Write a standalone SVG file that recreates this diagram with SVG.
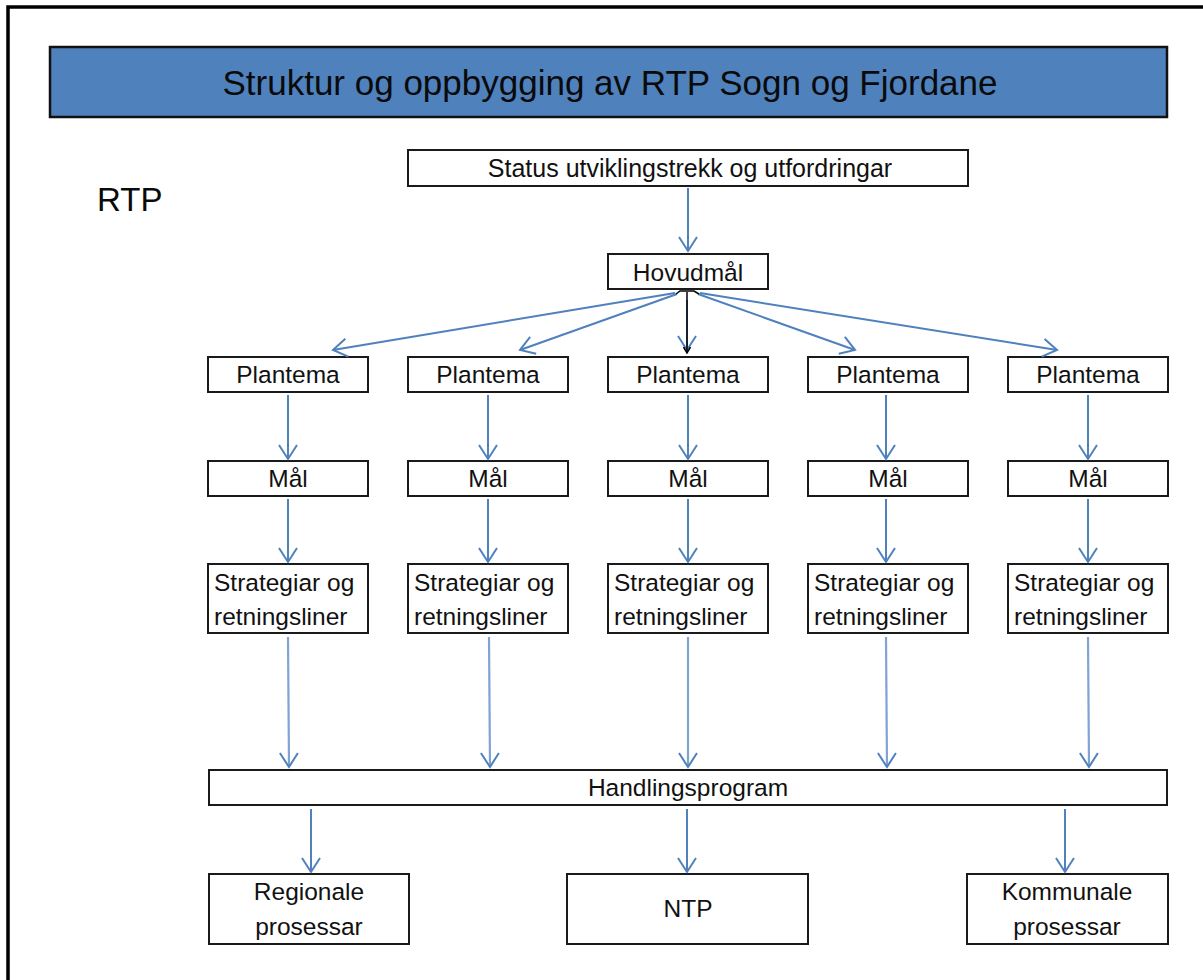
<svg xmlns="http://www.w3.org/2000/svg" width="1203" height="980" viewBox="0 0 1203 980">
<style>
.box{fill:#fff;stroke:#1a1a1a;stroke-width:2}
.t{font-family:"Liberation Sans",Arial,sans-serif;font-size:24.5px;fill:#111;text-anchor:middle}
.tl{font-family:"Liberation Sans",Arial,sans-serif;font-size:24.5px;fill:#111}
.c{stroke:#4F81BD;stroke-width:2;fill:none;marker-end:url(#arr)}
.cl{stroke:#7FA3D4;stroke-width:2.2;fill:none;marker-end:url(#arr)}
</style>
<defs>
<marker id="arr" viewBox="-16 -11 18 22" refX="0" refY="0" markerWidth="18" markerHeight="22" markerUnits="userSpaceOnUse" orient="auto">
<path d="M-14,-9 L0,0 L-14,9" fill="none" stroke="#4F81BD" stroke-width="2"/>
</marker>
<marker id="arrk" viewBox="-8 -5 9 10" refX="0" refY="0" markerWidth="9" markerHeight="10" markerUnits="userSpaceOnUse" orient="auto">
<path d="M-6,-3.5 L0,0 L-6,3.5" fill="none" stroke="#000" stroke-width="1.5"/>
</marker>
</defs>
<rect x="0" y="0" width="1203" height="980" fill="#fff"/>
<rect x="8" y="7" width="1200" height="1000" fill="none" stroke="#000" stroke-width="3.5"/>
<g id="title">
<rect x="50" y="47" width="1117" height="70" fill="#4F81BD" stroke="#111" stroke-width="2.5"/>
<text x="610" y="95" font-family="Liberation Sans,Arial,sans-serif" font-size="35" text-anchor="middle" fill="#0a0a0a">Struktur og oppbygging av RTP Sogn og Fjordane</text>
</g>
<g id="rtp-label"><text x="97" y="211" font-family="Liberation Sans,Arial,sans-serif" font-size="33" fill="#0a0a0a">RTP</text></g>
<g id="status"><rect class="box" x="408" y="150" width="560" height="36"/><text class="t" x="690" y="177" style="font-size:25px">Status utviklingstrekk og utfordringar</text></g>
<g id="hovudmal"><rect class="box" x="608" y="254" width="160" height="35"/><text class="t" x="688" y="281">Hovudmål</text></g>
<g id="plantema1"><rect class="box" x="208" y="357" width="160" height="35"/><text class="t" x="288" y="383">Plantema</text></g>
<g id="plantema2"><rect class="box" x="408" y="357" width="160" height="35"/><text class="t" x="488" y="383">Plantema</text></g>
<g id="plantema3"><rect class="box" x="608" y="357" width="160" height="35"/><text class="t" x="688" y="383">Plantema</text></g>
<g id="plantema4"><rect class="box" x="808" y="357" width="160" height="35"/><text class="t" x="888" y="383">Plantema</text></g>
<g id="plantema5"><rect class="box" x="1008" y="357" width="160" height="35"/><text class="t" x="1088" y="383">Plantema</text></g>
<g id="mal1"><rect class="box" x="208" y="461" width="160" height="35"/><text class="t" x="288" y="487">Mål</text></g>
<g id="mal2"><rect class="box" x="408" y="461" width="160" height="35"/><text class="t" x="488" y="487">Mål</text></g>
<g id="mal3"><rect class="box" x="608" y="461" width="160" height="35"/><text class="t" x="688" y="487">Mål</text></g>
<g id="mal4"><rect class="box" x="808" y="461" width="160" height="35"/><text class="t" x="888" y="487">Mål</text></g>
<g id="mal5"><rect class="box" x="1008" y="461" width="160" height="35"/><text class="t" x="1088" y="487">Mål</text></g>
<g id="strat1"><rect class="box" x="208" y="564" width="160" height="69"/><text class="tl" x="214" y="591">Strategiar og</text><text class="tl" x="214" y="625">retningsliner</text></g>
<g id="strat2"><rect class="box" x="408" y="564" width="160" height="69"/><text class="tl" x="414" y="591">Strategiar og</text><text class="tl" x="414" y="625">retningsliner</text></g>
<g id="strat3"><rect class="box" x="608" y="564" width="160" height="69"/><text class="tl" x="614" y="591">Strategiar og</text><text class="tl" x="614" y="625">retningsliner</text></g>
<g id="strat4"><rect class="box" x="808" y="564" width="160" height="69"/><text class="tl" x="814" y="591">Strategiar og</text><text class="tl" x="814" y="625">retningsliner</text></g>
<g id="strat5"><rect class="box" x="1008" y="564" width="160" height="69"/><text class="tl" x="1014" y="591">Strategiar og</text><text class="tl" x="1014" y="625">retningsliner</text></g>
<g id="handling"><rect class="box" x="209" y="770" width="958" height="35"/><text class="t" x="688" y="796">Handlingsprogram</text></g>
<g id="regionale"><rect class="box" x="209" y="874" width="200" height="70"/><text class="t" x="309" y="900">Regionale</text><text class="t" x="309" y="935">prosessar</text></g>
<g id="ntp"><rect class="box" x="567" y="874" width="241" height="70"/><text class="t" x="688" y="917">NTP</text></g>
<g id="kommunale"><rect class="box" x="967" y="874" width="201" height="70"/><text class="t" x="1067" y="900">Kommunale</text><text class="t" x="1067" y="935">prosessar</text></g>
<g id="connectors">
<line class="c" x1="688" y1="188" x2="688" y2="251"/>
<line class="c" x1="675" y1="293" x2="333" y2="350"/>
<line class="c" x1="677" y1="294" x2="520" y2="350"/>
<line class="c" x1="687" y1="300" x2="687" y2="350"/>
<line class="c" x1="698" y1="294" x2="855" y2="350"/>
<line class="c" x1="700" y1="293" x2="1057" y2="350"/>
<line x1="687" y1="292" x2="687" y2="353" stroke="#000" stroke-width="1.5" marker-end="url(#arrk)"/>
<path d="M676,294 L680,291 L694,291 L699,294" fill="none" stroke="#000" stroke-width="1.5"/>
<line class="c" x1="288" y1="395" x2="288" y2="459"/>
<line class="c" x1="488" y1="395" x2="488" y2="459"/>
<line class="c" x1="688" y1="395" x2="688" y2="459"/>
<line class="c" x1="886" y1="395" x2="886" y2="459"/>
<line class="c" x1="1088" y1="395" x2="1088" y2="459"/>
<line class="c" x1="288" y1="499" x2="288" y2="562"/>
<line class="c" x1="488" y1="499" x2="488" y2="562"/>
<line class="c" x1="688" y1="499" x2="688" y2="562"/>
<line class="c" x1="886" y1="499" x2="886" y2="562"/>
<line class="c" x1="1088" y1="499" x2="1088" y2="562"/>
<line class="cl" x1="288" y1="637" x2="289" y2="767"/>
<line class="cl" x1="489" y1="637" x2="490" y2="767"/>
<line class="cl" x1="688" y1="637" x2="688" y2="767"/>
<line class="cl" x1="886" y1="637" x2="887" y2="767"/>
<line class="cl" x1="1088" y1="637" x2="1089" y2="767"/>
<line class="c" x1="311" y1="809" x2="311" y2="872"/>
<line class="c" x1="687" y1="809" x2="687" y2="872"/>
<line class="c" x1="1065" y1="809" x2="1065" y2="872"/>
</g>
</svg>
